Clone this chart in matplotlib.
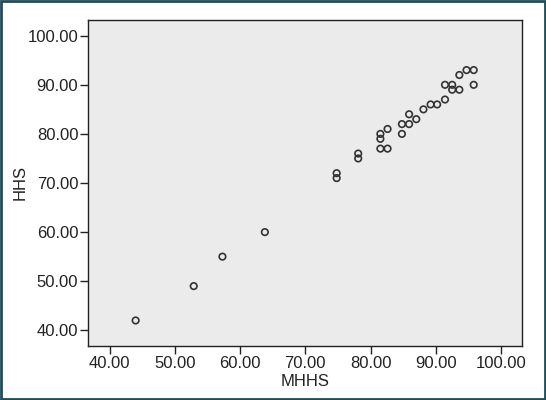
import numpy as np
import matplotlib
matplotlib.use("Agg")
import matplotlib.pyplot as plt
from matplotlib.patches import Rectangle

plt.rcParams['font.family'] = ['Liberation Sans', 'DejaVu Sans']

# MHHS vs HHS scores
mhhs = [44.0, 52.9, 57.3, 63.8, 74.8, 74.8, 78.1, 78.1,
        81.5, 81.5, 81.5, 82.6, 82.6, 84.8, 84.8, 85.9, 85.9,
        87.0, 88.1, 89.2, 90.2, 91.4, 91.4, 92.5, 92.5, 93.6, 93.6,
        94.7, 95.8, 95.8]
hhs = [42, 49, 55, 60, 72, 71, 76, 75,
       80, 79, 77, 77, 81, 82, 80, 82, 84,
       83, 85, 86, 86, 87, 90, 90, 89, 89, 92,
       93, 93, 90]
xticks = [40, 50, 60, 70, 80, 90, 100]
yticks = [40, 50, 60, 70, 80, 90, 100]

fig = plt.figure(figsize=(5.46, 4.0), dpi=100)
ax = fig.add_axes([88/546, 1 - 346/400, (522-88)/546, (346-20)/400])
ax.set_facecolor('#ebebeb')

ax.scatter(mhhs, hhs, s=22, facecolors='none', edgecolors='#333333', linewidths=1.2)

ax.set_xlim(36.7, 103.2)
ax.set_ylim(36.8, 103.2)
ax.set_xticks(xticks)
ax.set_yticks(yticks)
ax.set_xticklabels([f"{v:.2f}" for v in xticks])
ax.set_yticklabels([f"{v:.2f}" for v in yticks])
ax.tick_params(direction='out', length=6, width=1, labelsize=12, pad=1, colors='#222222')
for s in ax.spines.values():
    s.set_color('#222222')
    s.set_linewidth(1)

ax.set_xlabel('MHHS', fontsize=12, labelpad=2, color='#222222')
ax.set_ylabel('HHS', fontsize=12, color='#222222')
ax.yaxis.set_label_coords(-0.138, 0.5)

# dark frame around the whole figure
fig.patches.append(Rectangle((0.001, 0.002), 0.997, 0.996, transform=fig.transFigure,
                             fill=False, edgecolor='#1d4d58', linewidth=2))

fig.savefig('out.png', dpi=100)
